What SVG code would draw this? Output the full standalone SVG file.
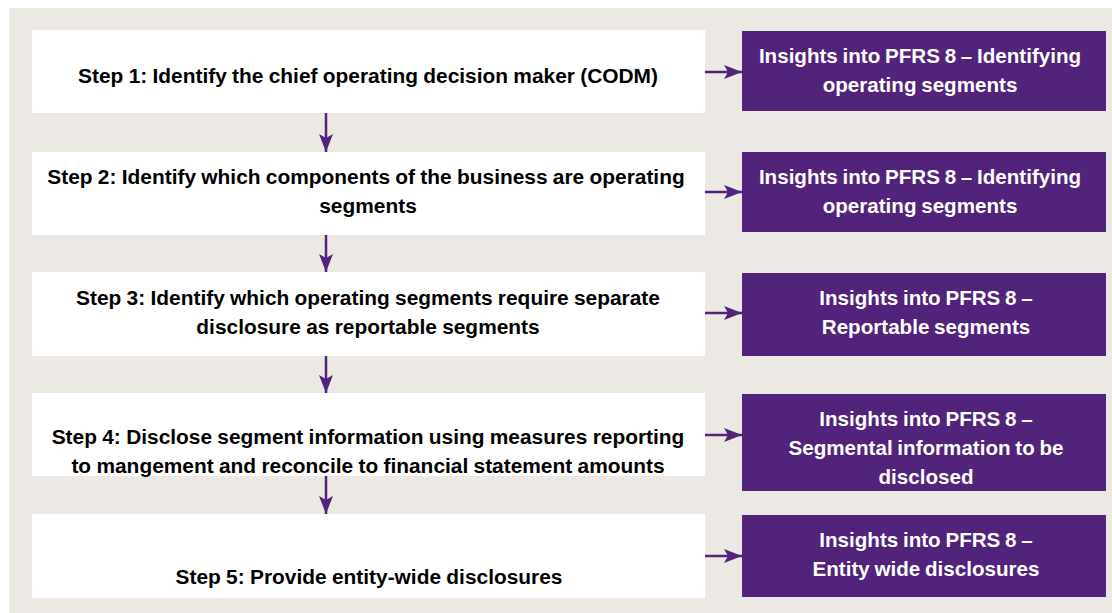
<svg xmlns="http://www.w3.org/2000/svg" width="1112" height="613" viewBox="0 0 1112 613">
<defs>
<marker id="ah" markerUnits="userSpaceOnUse" markerWidth="18" markerHeight="14" refX="18" refY="7" orient="auto">
<path d="M0,0 L18,7 L0,14 L4,7 Z" fill="#51237A"/>
</marker>
</defs>
<style>
.step{fill:#FFFFFF}
.ins{fill:#51237A}
.st{font-family:"Liberation Sans",Arial,sans-serif;font-weight:bold;font-size:20.9px;fill:#000;text-anchor:middle;word-spacing:-0.5px}
.it{font-family:"Liberation Sans",Arial,sans-serif;font-weight:bold;font-size:20.6px;fill:#FFFFFF;text-anchor:middle;word-spacing:-1px}
.con{stroke:#51237A;stroke-width:2.5;fill:none;marker-end:url(#ah)}
</style>
<rect x="9" y="8" width="1103" height="605" fill="#ECE8E3"/>
<g id="step1"><rect class="step" x="32" y="30" width="673" height="83"/><text class="st" x="368" y="83">Step 1: Identify the chief operating decision maker (CODM)</text></g>
<g id="step2"><rect class="step" x="32" y="152" width="673" height="83"/><text class="st" x="366" y="184">Step 2: Identify which components of the business are operating</text><text class="st" x="368" y="213">segments</text></g>
<g id="step3"><rect class="step" x="32" y="272" width="673" height="84"/><text class="st" x="368" y="305">Step 3: Identify which operating segments require separate</text><text class="st" x="368" y="334">disclosure as reportable segments</text></g>
<g id="step4"><rect class="step" x="32" y="393" width="673" height="83"/><text class="st" x="368" y="444">Step 4: Disclose segment information using measures reporting</text><text class="st" x="368" y="473">to mangement and reconcile to financial statement amounts</text></g>
<g id="step5"><rect class="step" x="32" y="514" width="673" height="84"/><text class="st" x="369" y="584">Step 5: Provide entity-wide disclosures</text></g>
<g id="ins1"><rect class="ins" x="742" y="31" width="364" height="80"/><text class="it" x="920" y="63">Insights into PFRS 8 – Identifying</text><text class="it" x="920" y="92">operating segments</text></g>
<g id="ins2"><rect class="ins" x="742" y="152" width="364" height="80"/><text class="it" x="920" y="184">Insights into PFRS 8 – Identifying</text><text class="it" x="920" y="213">operating segments</text></g>
<g id="ins3"><rect class="ins" x="742" y="273" width="364" height="83"/><text class="it" x="926" y="305">Insights into PFRS 8 –</text><text class="it" x="926" y="334">Reportable segments</text></g>
<g id="ins4"><rect class="ins" x="742" y="394" width="364" height="97"/><text class="it" x="926" y="426">Insights into PFRS 8 –</text><text class="it" x="926" y="455">Segmental information to be</text><text class="it" x="926" y="484">disclosed</text></g>
<g id="ins5"><rect class="ins" x="742" y="515" width="364" height="82"/><text class="it" x="926" y="547">Insights into PFRS 8 –</text><text class="it" x="926" y="576">Entity wide disclosures</text></g>
<g id="connectors">
<line class="con" x1="326" y1="113" x2="326" y2="152"/>
<line class="con" x1="326" y1="235" x2="326" y2="272"/>
<line class="con" x1="326" y1="356" x2="326" y2="393"/>
<line class="con" x1="326" y1="476" x2="326" y2="514"/>
<line class="con" x1="705" y1="72" x2="742" y2="72"/>
<line class="con" x1="705" y1="192" x2="742" y2="192"/>
<line class="con" x1="705" y1="313" x2="742" y2="313"/>
<line class="con" x1="705" y1="435" x2="742" y2="435"/>
<line class="con" x1="705" y1="556" x2="742" y2="556"/>
</g>
</svg>
